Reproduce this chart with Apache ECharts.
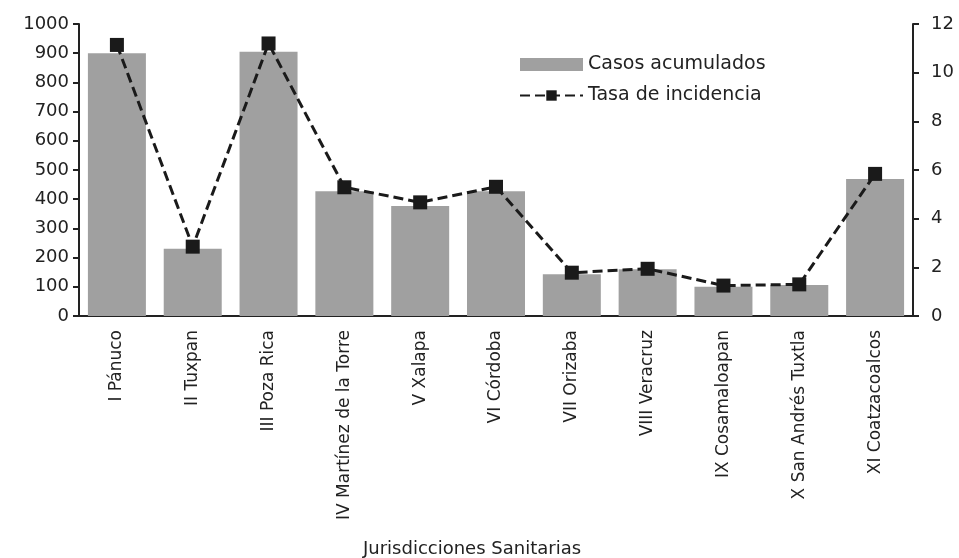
<!DOCTYPE html>
<html>
<head>
<meta charset="utf-8">
<script src="https://cdn.jsdelivr.net/npm/echarts@6/dist/echarts.min.js"></script>
<style>
  html, body { margin: 0; padding: 0; background: #fff; }
  #chart { width: 959px; height: 558px; }
</style>
</head>
<body>
<div id="chart"></div>
<script>
// datos
var jurisdicciones = ['I Pánuco', 'II Tuxpan', 'III Poza Rica', 'IV Martínez de la Torre', 'V Xalapa',
  'VI Córdoba', 'VII Orizaba', 'VIII Veracruz', 'IX Cosamaloapan', 'X San Andrés Tuxtla', 'XI Coatzacoalcos'];
var casosAcumulados = [900, 230, 905, 427, 377, 427, 143, 160, 100, 106, 469];
var tasaIncidencia = [11.14, 2.85, 11.2, 5.29, 4.67, 5.31, 1.78, 1.94, 1.25, 1.3, 5.84];

var fuente = 'DejaVu Sans';
var negro = '#1a1a1a';

var myChart = echarts.init(document.getElementById('chart'));
var option = {
  backgroundColor: '#fff',
  animation: false,
  textStyle: { fontFamily: fuente, color: '#222' },
  legend: {
    orient: 'vertical',
    left: 514,
    top: 50,
    itemWidth: 63,
    itemHeight: 13,
    itemGap: 12,
    textStyle: { fontFamily: fuente, fontSize: 19, color: '#222' },
    data: [{ name: 'Casos acumulados', icon: 'rect' }, 'Tasa de incidencia']
  },
  grid: { left: 79, right: 46, top: 24, bottom: 242, outerBoundsMode: 'none' },
  xAxis: {
    type: 'category',
    data: jurisdicciones,
    name: 'Jurisdicciones Sanitarias',
    nameLocation: 'middle',
    nameGap: 224,
    nameTextStyle: { fontFamily: fuente, fontSize: 18, color: '#222', verticalAlign: 'top', padding: [0, 48, 0, 0] },
    axisLine: { lineStyle: { color: '#222', width: 2 } },
    axisTick: { show: false },
    axisLabel: { rotate: 90, margin: 14, fontSize: 17, color: '#222', fontFamily: fuente }
  },
  yAxis: [
    {
      type: 'value', min: 0, max: 1000, interval: 100,
      splitLine: { show: false },
      axisLine: { show: true, lineStyle: { color: '#222', width: 2 } },
      axisTick: { show: true, length: 6, lineStyle: { color: '#222', width: 2 } },
      axisLabel: {
        fontSize: 18, color: '#222', margin: 10, fontFamily: fuente,
        formatter: function (v) { return String(v); }
      }
    },
    {
      type: 'value', min: 0, max: 12, interval: 2,
      position: 'right',
      splitLine: { show: false },
      axisLine: { show: true, lineStyle: { color: '#222', width: 2 } },
      axisTick: { show: true, length: 6, lineStyle: { color: '#222', width: 2 } },
      axisLabel: { fontSize: 18, color: '#222', margin: 18, fontFamily: fuente }
    }
  ],
  series: [
    {
      name: 'Casos acumulados',
      type: 'bar',
      yAxisIndex: 0,
      barWidth: 58,
      itemStyle: { color: '#a0a0a0' },
      data: casosAcumulados
    },
    {
      name: 'Tasa de incidencia',
      type: 'line',
      yAxisIndex: 1,
      symbol: 'rect',
      symbolSize: 14,
      lineStyle: { color: negro, width: 3, type: [10, 5] },
      itemStyle: { color: negro },
      data: tasaIncidencia
    }
  ]
};
myChart.setOption(option);
window.addEventListener('resize', function () {
  myChart.resize();
});
</script>
</body>
</html>
